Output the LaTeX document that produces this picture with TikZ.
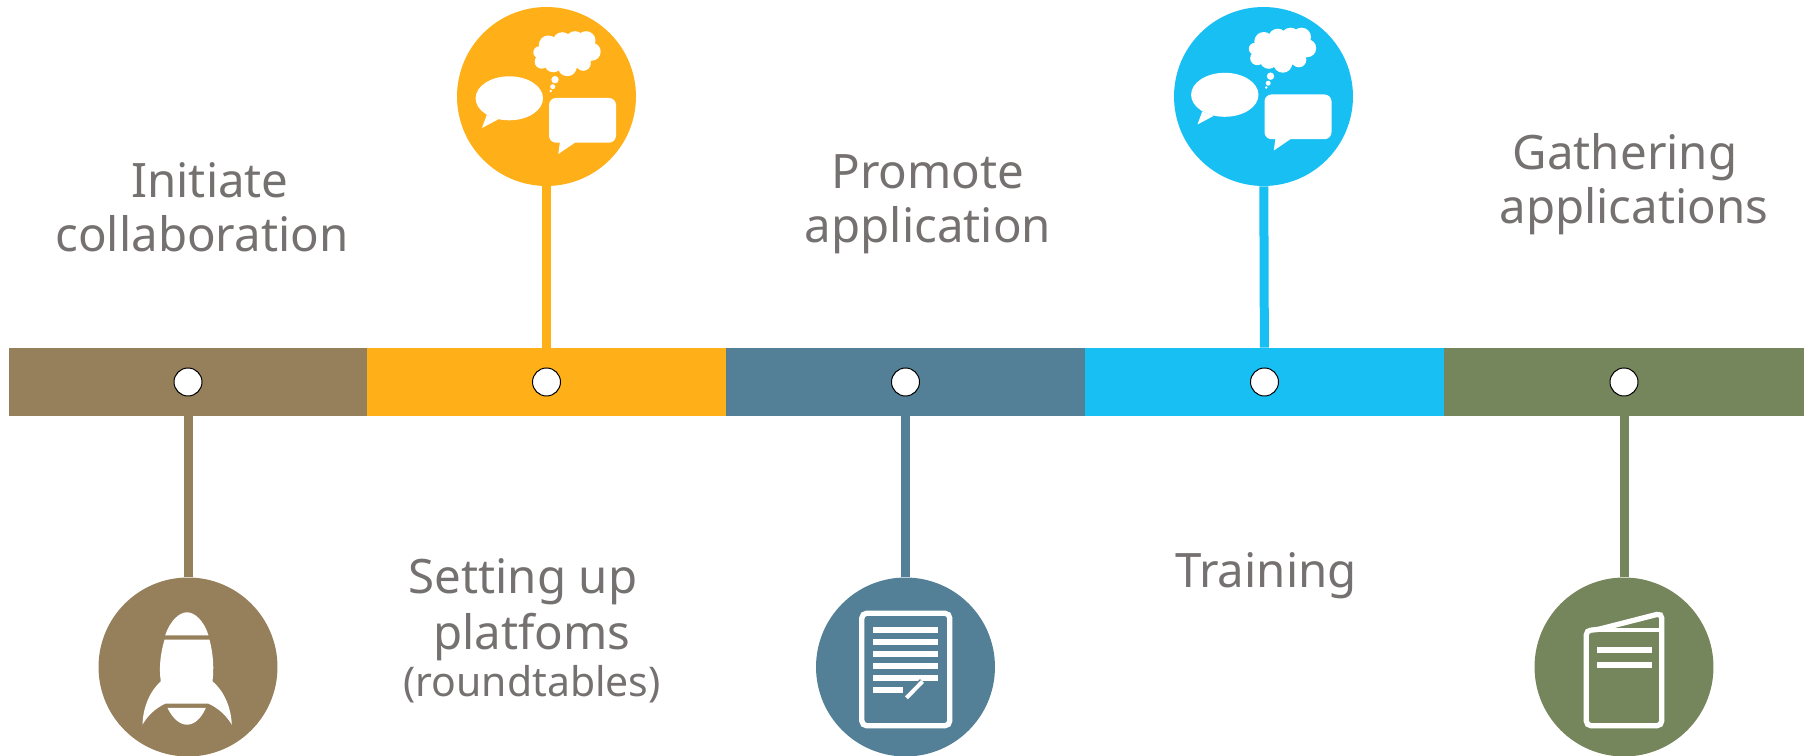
\documentclass[tikz,border=0pt]{standalone}
\usepackage{fontspec}
\setmainfont{Noto Sans}
\usepackage{xcolor}
\usetikzlibrary{positioning,calc}
\definecolor{brownseg}{HTML}{967F5B}
\definecolor{orangeseg}{HTML}{FFAF18}
\definecolor{blueseg}{HTML}{538096}
\definecolor{cyanseg}{HTML}{18BFF3}
\definecolor{greenseg}{HTML}{76865C}
\definecolor{labelgray}{HTML}{767171}
\tikzset{
    seg/.style={minimum width=7.2cm,minimum height=1.36cm,inner sep=0pt,fill=#1},
    dot/.style={circle,draw=black,fill=white,line width=0.02cm,minimum size=0.56cm,inner sep=0pt},
    badge/.style={circle,minimum size=3.58cm,inner sep=0pt,fill=#1},
    stem/.style={line width=0.18cm,#1},
    caption/.style={text=labelgray,align=center,font=\fontsize{27}{30.7}\selectfont},
    talk/.pic={
        \fill[white] (-37.2,1.8) ellipse (33.7 and 22);
        \fill[white] (-59.8,18.5) -- (-64.5,31.5) -- (-48.2,22.8) -- cycle;
        \fill[white,rounded corners=0.14cm] (2.5,1.5) rectangle (69.5,46.2);
        \fill[white] (13.5,45) -- (11.8,57.5) -- (30.2,45) -- cycle;
        % cloud
        \foreach \x/\y/\r in {1.8/-51.5/9.5, 15.8/-54.8/9.5, 28.5/-55.8/9.5, 39.5/-55.8/9.5,
                45.2/-44.8/9, 36.8/-33.2/7.5, 20.8/-29.8/9.5, 6.8/-33.2/9, -4.8/-34.8/7, -7.2/-44.2/6,
                8.5/-16.8/3.7, 6.2/-9.8/2.5, 4.2/-5.5/1.4}
            \fill[white] (\x,\y) circle (\r);
        \fill[white] (19,-43) ellipse (29 and 16);
    }
}

\begin{document}
\begin{tikzpicture}[x=0.02cm,y=-0.02cm]
    \useasboundingbox (0,0) rectangle (1810,756);
    % bar
    \node[seg=brownseg,minimum width=7.16cm] (segA) at (188,382) {};
    \node[seg=orangeseg] (segB) at (546.5,382) {};
    \node[seg=blueseg] (segC) at (905.5,382) {};
    \node[seg=cyanseg] (segD) at (1264.5,382) {};
    \node[seg=greenseg] (segE) at (1624,382) {};
    \foreach \s in {A,B,C,D,E}
        \node[dot] (dot\s) at (seg\s) {};
    % circles
    \node[badge=brownseg] (iconA) at (188,667) {};
    \node[badge=orangeseg] (iconB) at (546.5,96.5) {};
    \node[badge=blueseg] (iconC) at (905.5,667) {};
    \node[badge=cyanseg] (iconD) at (1263.5,96.5) {};
    \node[badge=greenseg] (iconE) at (1624,667) {};
    \draw[stem=brownseg] (segA) -- (iconA);
    \draw[stem=orangeseg] (segB) -- (iconB);
    \draw[stem=blueseg] (segC) -- (iconC);
    \draw[stem=cyanseg] (segD) -- (iconD);
    \draw[stem=greenseg] (segE) -- (iconE);
    % rocket
    \begin{scope}[shift={(188,667)}]
        \fill[white] (-22.8,-31.7) .. controls (-18,-46) and (-9,-54.7) .. (-1,-54.7)
            .. controls (7,-54.7) and (16,-46) .. (20.5,-31.7) -- cycle;
        \fill[white] (-23.5,-27.3) .. controls (-28,-12) and (-29,2) .. (-27.2,14.3)
            .. controls (-38,24) and (-45,40) .. (-45.5,57.7)
            .. controls (-40,48) and (-32,41) .. (-22.8,36.7) -- (20.5,36.7)
            .. controls (30,41) and (38,48) .. (43.8,57.7)
            .. controls (43,40) and (36,24) .. (24.5,14.3)
            .. controls (26,2) and (25.5,-12) .. (21.5,-27.3) -- cycle;
        \fill[white] (-20.5,41) -- (17.8,41) .. controls (13,52) and (6,57.7) .. (-1,57.7)
            .. controls (-8,57.7) and (-15,52) .. cycle;
    \end{scope}
    \pic at (546.5,96.5) {talk};
    \pic at (1262,93) {talk};
    % document
    \begin{scope}[shift={(905.5,667)}]
        \draw[white,line width=0.106cm,rounded corners=0.1cm] (-43.7,-53.8) rectangle (44.3,58.8);
        \foreach \y in {-37.2,-25.2,-13.2,-0.5,11.5}
            \fill[white] (-32.3,\y-3) rectangle (32,\y+3);
        \fill[white] (-32.3,20.5) rectangle (-3,26.5);
        \draw[blueseg,line width=0.14cm] (1,30.8) -- (17,14.5);
        \draw[white,line width=0.08cm] (1,30.8) -- (17,14.5);
    \end{scope}
    % booklet
    \begin{scope}[shift={(1624,667)}]
        \draw[white,line width=0.106cm,rounded corners=0.1cm]
            (-37.8,58.8) -- (-37.8,-37) -- (-28,-37) -- (37.8,-53.8) -- (37.8,58.8) -- cycle;
        \draw[white,line width=0.09cm] (-35,-37) -- (37,-37);
        \fill[white] (-27.2,-20.2) rectangle (27.8,-14.2);
        \fill[white] (-27.2,-4.8) rectangle (27.8,1.2);
    \end{scope}
    % labels
    \node[caption] (txtA) at (202,207) {\hspace*{0.32cm}Initiate\\collaboration};
    \node[caption] (txtB) at (532,631) {Setting up\hspace*{0.36cm}\\[1pt]platfoms\\[-4pt]{\fontsize{23.3}{26}\selectfont (roundtables)}};
    \node[caption] (txtC) at (928,204) {Promote\\application};
    \node[caption] (txtD) at (1266,576) {Training};
    \node[caption] (txtE) at (1634,184) {Gathering\hspace*{0.36cm}\\applications};
\end{tikzpicture}
\end{document}
